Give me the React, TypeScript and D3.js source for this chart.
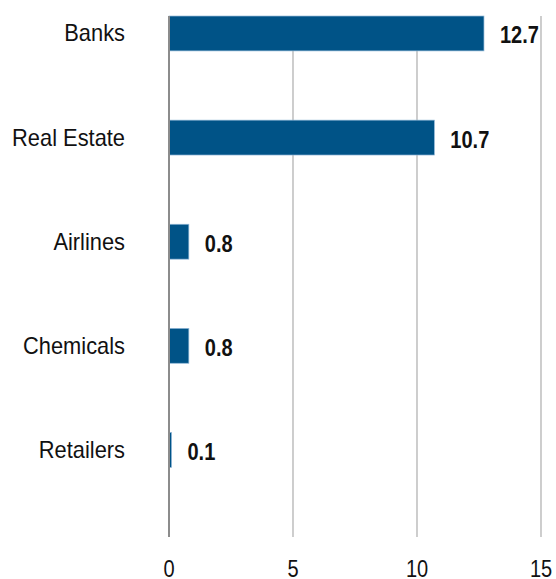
import { useEffect, useRef } from "react";
import * as d3 from "d3";

// sectors and their values
const sectors: string[] = ["Banks", "Real Estate", "Airlines", "Chemicals", "Retailers"];
const values: number[] = [12.7, 10.7, 0.8, 0.8, 0.1];
const xTicks: number[] = [0, 5, 10, 15];

const font = "'Liberation Sans', Arial, sans-serif";

export default function App() {
  const svgRef = useRef<SVGSVGElement>(null);

  useEffect(() => {
    const width = 556;
    const height = 579;
    const plotTop = 16;
    const plotBottom = 537;

    const svg = d3
      .select(svgRef.current)
      .attr("width", width)
      .attr("height", height);

    svg.selectAll("*").remove();

    const x = d3.scaleLinear().domain([0, 15]).range([169, 541]);

    const y = d3
      .scaleBand()
      .domain(sectors)
      .range([-18.6, 502])
      .paddingInner(0.665)
      .paddingOuter(0.3325);

    const mid = (d: string) => (y(d) || 0) + y.bandwidth() / 2;

    // gridlines
    svg
      .selectAll("line.grid")
      .data(xTicks.filter((t) => t > 0))
      .join("line")
      .attr("class", "grid")
      .attr("x1", (d) => x(d))
      .attr("x2", (d) => x(d))
      .attr("y1", plotTop)
      .attr("y2", plotBottom)
      .attr("stroke", "#b3b3b3")
      .attr("stroke-width", 1.3);

    // bars
    svg
      .selectAll("rect")
      .data(sectors)
      .join("rect")
      .attr("x", x(0))
      .attr("y", (d) => y(d) || 0)
      .attr("width", (d, i) => x(values[i]) - x(0))
      .attr("height", y.bandwidth())
      .attr("fill", "#005387")
      .attr("stroke", "#8fb6d6")
      .attr("stroke-width", 0.7);

    // zero axis
    svg
      .append("line")
      .attr("x1", x(0))
      .attr("x2", x(0))
      .attr("y1", plotTop)
      .attr("y2", plotBottom)
      .attr("stroke", "#8c8c8c")
      .attr("stroke-width", 2);

    // category labels (slightly condensed)
    svg
      .selectAll("text.cat")
      .data(sectors)
      .join("text")
      .attr("class", "cat")
      .attr("transform", (d) => `translate(125,${mid(d) + 8}) scale(0.95,1)`)
      .attr("text-anchor", "end")
      .attr("font-family", font)
      .attr("font-size", 23)
      .attr("fill", "#111")
      .text((d) => d);

    // value labels
    svg
      .selectAll("text.val")
      .data(sectors)
      .join("text")
      .attr("class", "val")
      .attr(
        "transform",
        (d, i) => `translate(${x(values[i]) + 16},${mid(d) + 10}) scale(0.87,1)`
      )
      .attr("font-family", font)
      .attr("font-weight", "bold")
      .attr("font-size", 23)
      .attr("fill", "#111")
      .text((d, i) => values[i].toFixed(1));

    // x tick labels
    svg
      .selectAll("text.tick")
      .data(xTicks)
      .join("text")
      .attr("class", "tick")
      .attr("transform", (d) => `translate(${x(d)},577) scale(0.87,1)`)
      .attr("text-anchor", "middle")
      .attr("font-family", font)
      .attr("font-size", 23)
      .attr("fill", "#111")
      .text((d) => d);
  }, []);

  return (
    <svg
      ref={svgRef}
      style={{ position: "absolute", left: 0, top: 0, background: "#fff" }}
    ></svg>
  );
}
